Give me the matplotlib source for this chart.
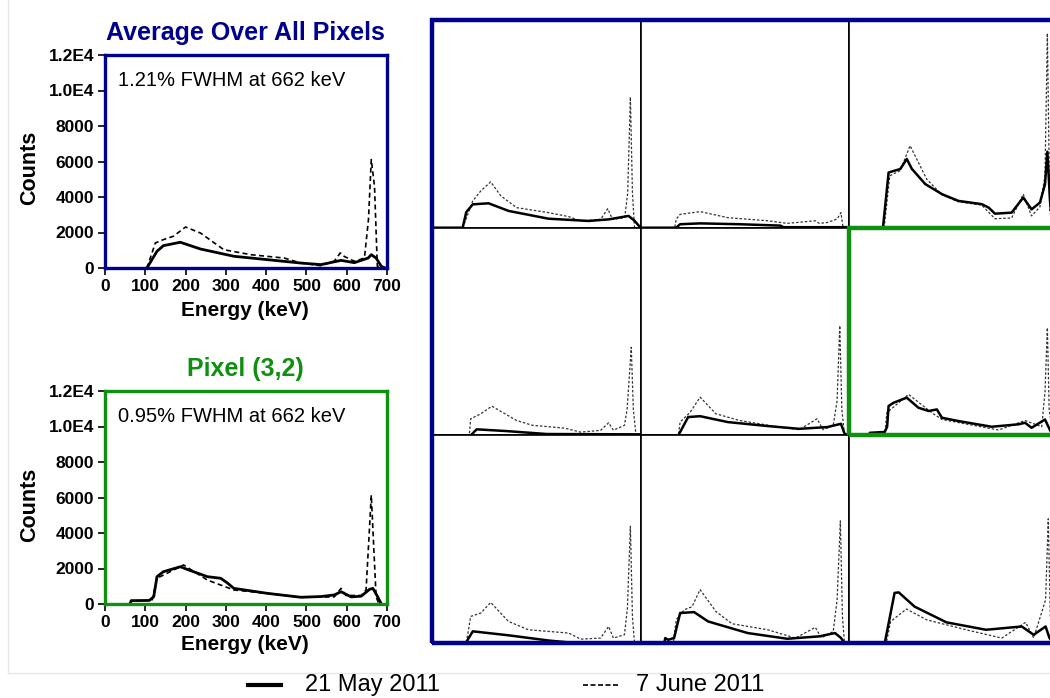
import matplotlib
matplotlib.use("Agg")
import matplotlib.pyplot as plt
from matplotlib.patches import Rectangle
from matplotlib.lines import Line2D

plt.rcParams['font.family'] = ['Liberation Sans', 'DejaVu Sans']

BLUE = '#00008f'
GREEN = '#109010'

# ---- left panels: energy knots (keV) and counts ----
avg_may_e = [104, 129, 145, 187, 204, 237, 320, 403, 486, 536, 586, 619, 653, 661, 673, 686, 695]
avg_may_c = [0, 940, 1260, 1450, 1320, 1070, 660, 470, 280, 190, 430, 300, 560, 750, 560, 90, 0]
avg_jun_e = [0, 104, 125, 145, 170, 200, 237, 295, 362, 445, 486, 536, 569, 584, 594, 619, 644, 654, 661, 669, 676, 700]
avg_jun_c = [0, 0, 1410, 1600, 1790, 2310, 1970, 1030, 750, 560, 280, 130, 380, 850, 650, 380, 560, 2730, 6110, 4600, 100, 0]

px_may_e = [62, 65, 110, 121, 129, 145, 187, 204, 254, 287, 303, 320, 403, 486, 536, 569, 586, 611, 636, 657, 665, 677, 686]
px_may_c = [0, 190, 200, 410, 1540, 1820, 2100, 1950, 1540, 1450, 1200, 880, 600, 380, 420, 510, 690, 400, 440, 830, 880, 400, 0]
px_jun_e = [0, 115, 129, 154, 195, 254, 320, 403, 486, 569, 586, 598, 636, 648, 654, 661, 667, 673, 680]
px_jun_c = [0, 0, 1450, 1730, 2200, 1350, 790, 600, 380, 400, 880, 480, 480, 790, 3230, 6140, 3230, 400, 0]

# ---- 3x3 pixel grid (row, col) ----
c11_may_e = [0, 103, 115, 137, 190, 257, 391, 526, 593, 660, 680, 700]
c11_may_c = [0, 0, 900, 1350, 1410, 970, 520, 390, 480, 680, 400, 0]
c11_jun_e = [0, 103, 110, 137, 164, 197, 231, 284, 391, 459, 499, 566, 590, 606, 647, 657, 666, 673, 680]
c11_jun_c = [0, 0, 300, 1550, 2130, 2650, 1840, 1160, 870, 640, 390, 480, 1100, 480, 580, 2000, 7550, 2000, 0]

c12_may_e = [0, 120, 133, 200, 333, 470, 480, 700]
c12_may_c = [0, 0, 200, 250, 200, 120, 30, 30]
c12_jun_e = [0, 115, 120, 133, 200, 293, 427, 493, 587, 600, 627, 660, 673, 680, 700]
c12_jun_c = [0, 0, 500, 770, 930, 580, 400, 250, 400, 250, 300, 500, 870, 0, 0]

c13_may_e = [0, 114, 133, 172, 194, 211, 256, 312, 367, 446, 469, 490, 546, 585, 613, 641, 658, 666, 675, 685]
c13_may_c = [0, 0, 3190, 3390, 3970, 3400, 2520, 1940, 1550, 1360, 1160, 810, 870, 1740, 1060, 1450, 2500, 4390, 1500, 0]
c13_jun_e = [0, 118, 137, 172, 205, 261, 312, 367, 446, 490, 546, 585, 613, 641, 658, 666, 674, 685]
c13_jun_c = [0, 0, 3000, 3300, 4740, 2800, 1900, 1500, 1300, 520, 560, 1940, 680, 1200, 3000, 11230, 1000, 0]

c21_may_e = [0, 130, 150, 250, 385, 700]
c21_may_c = [0, 0, 350, 250, 80, 60]
c21_jun_e = [0, 125, 130, 164, 201, 284, 338, 445, 499, 566, 593, 609, 646, 655, 669, 676, 685]
c21_jun_c = [0, 0, 960, 1250, 1690, 860, 580, 420, 190, 290, 730, 300, 580, 1500, 5090, 1500, 0]

c22_may_e = [0, 127, 160, 200, 293, 427, 533, 627, 673, 685, 700]
c22_may_c = [0, 0, 1060, 1110, 770, 540, 380, 480, 670, 100, 0]
c22_jun_e = [0, 127, 133, 167, 200, 253, 333, 467, 533, 593, 613, 647, 660, 669, 676, 685]
c22_jun_c = [0, 0, 770, 1340, 2210, 1250, 860, 480, 330, 960, 330, 580, 2000, 6340, 1500, 0]

c23_may_e = [0, 66, 70, 120, 128, 133, 150, 194, 233, 267, 295, 312, 367, 479, 569, 591, 613, 658, 675, 685]
c23_may_c = [0, 0, 150, 200, 500, 1700, 1890, 2180, 1600, 1410, 1500, 1020, 830, 500, 640, 730, 440, 920, 300, 0]
c23_jun_e = [0, 120, 127, 200, 278, 312, 502, 591, 647, 658, 666, 672, 685]
c23_jun_c = [0, 0, 1310, 2370, 1310, 920, 310, 860, 500, 2500, 6220, 1500, 0]

c31_may_e = [0, 113, 137, 257, 391, 460, 700]
c31_may_c = [0, 0, 680, 450, 150, 40, 30]
c31_jun_e = [0, 115, 130, 164, 197, 257, 324, 459, 499, 566, 593, 609, 646, 656, 666, 673, 680]
c31_jun_c = [0, 0, 1540, 1740, 2350, 1250, 770, 580, 230, 290, 960, 290, 480, 2000, 6750, 1500, 0]

c32_may_e = [0, 80, 83, 93, 113, 133, 180, 227, 360, 493, 600, 653, 673, 685, 700]
c32_may_c = [0, 0, 290, 190, 300, 1740, 1790, 1250, 580, 250, 390, 580, 300, 0, 0]
c32_jun_e = [0, 110, 120, 147, 173, 200, 253, 307, 427, 520, 587, 607, 647, 660, 671, 678, 685]
c32_jun_c = [0, 0, 1350, 1930, 2100, 3090, 1830, 1120, 770, 290, 910, 300, 670, 2500, 7060, 1500, 0]

c33_may_e = [0, 120, 153, 167, 220, 327, 460, 580, 620, 660, 673, 685]
c33_may_c = [0, 0, 2900, 2930, 2110, 1200, 770, 960, 480, 960, 300, 0]
c33_jun_e = [0, 125, 140, 193, 260, 393, 513, 593, 620, 660, 669, 676, 685]
c33_jun_c = [0, 0, 1250, 1970, 1350, 770, 290, 1200, 300, 2500, 7180, 1500, 0]

grid = [
    [(c11_may_e, c11_may_c, c11_jun_e, c11_jun_c),
     (c12_may_e, c12_may_c, c12_jun_e, c12_jun_c),
     (c13_may_e, c13_may_c, c13_jun_e, c13_jun_c)],
    [(c21_may_e, c21_may_c, c21_jun_e, c21_jun_c),
     (c22_may_e, c22_may_c, c22_jun_e, c22_jun_c),
     (c23_may_e, c23_may_c, c23_jun_e, c23_jun_c)],
    [(c31_may_e, c31_may_c, c31_jun_e, c31_jun_c),
     (c32_may_e, c32_may_c, c32_jun_e, c32_jun_c),
     (c33_may_e, c33_may_c, c33_jun_e, c33_jun_c)],
]

yticks = [0, 2000, 4000, 6000, 8000, 10000, 12000]
ytick_labels = ['0', '2000', '4000', '6000', '8000', '1.0E4', '1.2E4']
xticks = [0, 100, 200, 300, 400, 500, 600, 700]

W, H = 1050, 698
fig = plt.figure(figsize=(W / 100, H / 100), dpi=100)


def fx(px):
    return px / W


def fy(py):
    return 1 - py / H


def left_panel(top, bottom, color, title, note, may, jun, title_y, label_y, xlabel_y):
    ax = fig.add_axes([fx(105), fy(bottom), fx(387) - fx(105), fy(top) - fy(bottom)])
    ax.plot(jun[0], jun[1], color='black', lw=1.2, ls=(0, (3, 2)))
    ax.plot(may[0], may[1], color='black', lw=2.0)
    ax.set_xlim(0, 700)
    ax.set_ylim(0, 12000)
    ax.set_xticks(xticks)
    ax.set_xticklabels([str(v) for v in xticks], fontsize=12.5, fontweight='bold')
    ax.set_yticks(yticks)
    ax.set_yticklabels(ytick_labels, fontsize=12.5, fontweight='bold')
    ax.tick_params(direction='out', length=5, width=1.2, color='black', pad=3)
    for s in ax.spines.values():
        s.set_color(color)
        s.set_linewidth(2.4)
    ax.text(0.045, 0.88, note, transform=ax.transAxes, fontsize=14.5, va='center', ha='left')
    fig.text(fx(245), fy(title_y), title, color=color, fontsize=18, fontweight='bold',
             ha='center', va='center')
    fig.text(fx(30), fy(label_y), 'Counts', rotation=90, fontsize=15.5, fontweight='bold',
             ha='center', va='center')
    fig.text(fx(245), fy(xlabel_y), 'Energy (keV)', fontsize=15, fontweight='bold',
             ha='center', va='center')
    return ax


left_panel(55, 268, BLUE, 'Average Over All Pixels', '1.21% FWHM at 662 keV',
           (avg_may_e, avg_may_c), (avg_jun_e, avg_jun_c), 33, 168, 310)
left_panel(391, 604, GREEN, 'Pixel (3,2)', '0.95% FWHM at 662 keV',
           (px_may_e, px_may_c), (px_jun_e, px_jun_c), 369, 505, 645)

# grid of pixel spectra
gx0, gy0 = 432, 20
cw, ch = 208.5, 207.7
for r in range(3):
    for c in range(3):
        me, mc, je, jc = grid[r][c]
        ax = fig.add_axes([fx(gx0 + c * cw), fy(gy0 + (r + 1) * ch), cw / W, ch / H])
        ax.plot(je, jc, color='#333333', lw=0.9, ls=(0, (2, 1.5)))
        ax.plot(me, mc, color='black', lw=1.8)
        ax.set_xlim(0, 700)
        ax.set_ylim(0, 12000)
        ax.set_xticks([])
        ax.set_yticks([])
        for s in ax.spines.values():
            s.set_color('black')
            s.set_linewidth(1.2)

fig.add_artist(Rectangle((fx(gx0), fy(gy0 + 3 * ch)), 3 * cw / W, 3 * ch / H,
                         transform=fig.transFigure, fill=False, ec=BLUE, lw=3.2, zorder=10))
fig.add_artist(Rectangle((fx(gx0 + 2 * cw), fy(gy0 + 2 * ch)), cw / W, ch / H,
                         transform=fig.transFigure, fill=False, ec=GREEN, lw=3.2, zorder=11))

# faint frame around the panel area
fig.add_artist(Line2D([fx(8), fx(8)], [fy(0), fy(673)], transform=fig.transFigure,
                      color='#e6e6e6', lw=1))
fig.add_artist(Line2D([fx(8), fx(1050)], [fy(673), fy(673)], transform=fig.transFigure,
                      color='#e6e6e6', lw=1))

# legend
fig.add_artist(Line2D([fx(248), fx(281)], [fy(685), fy(685)], transform=fig.transFigure,
                      color='black', lw=3))
fig.text(fx(305), fy(685), '21 May 2011', fontsize=17, ha='left', va='center')
fig.add_artist(Line2D([fx(583), fx(620)], [fy(685), fy(685)], transform=fig.transFigure,
                      color='black', lw=1.2, ls=(0, (3, 1.5))))
fig.text(fx(636), fy(685), '7 June 2011', fontsize=17, ha='left', va='center')

fig.savefig('out.png', dpi=100)
